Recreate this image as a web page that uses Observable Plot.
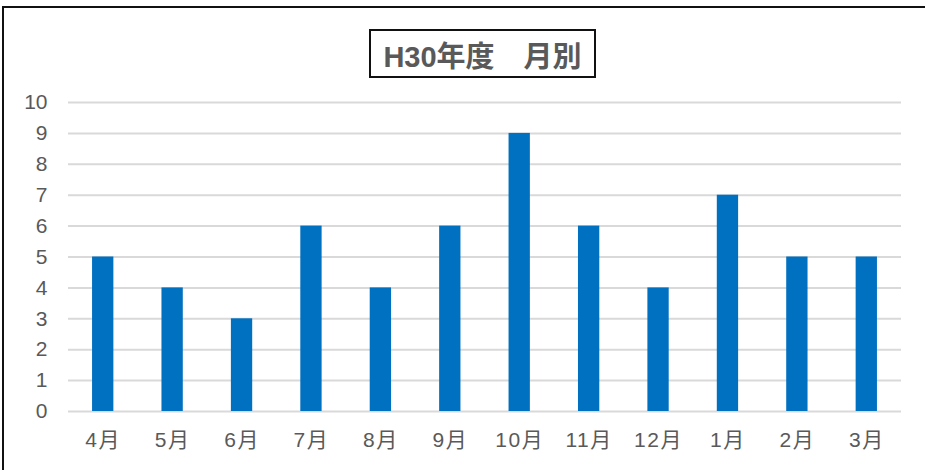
<!DOCTYPE html>
<html>
<head>
<meta charset="utf-8">
<script src="https://cdn.jsdelivr.net/npm/d3@7"></script>
<script src="https://cdn.jsdelivr.net/npm/@observablehq/plot@0.6"></script>
<style>
  html, body { margin: 0; padding: 0; background: #fff; overflow: hidden; width: 925px; height: 470px; }
  #frame { position: absolute; left: 2px; top: 6px; width: 1000px; height: 600px; border: 2px solid #111; box-sizing: border-box; }
  #title { position: absolute; left: 369px; top: 29px; width: 227px; height: 49px; box-sizing: border-box;
    border: 2px solid #111; display: flex; align-items: center; justify-content: center;
    font-family: "Liberation Sans", "Noto Sans CJK JP", sans-serif; font-weight: bold; font-size: 29px;
    color: #595959; letter-spacing: 0px; white-space: pre; }
  #chart { position: absolute; left: 0; top: 85px; }
</style>
</head>
<body>
<div id="frame"></div>
<div id="title"></div>
<div id="chart"></div>
<script>
const titleText = "H30年度\u3000月別";
const months = ["4月", "5月", "6月", "7月", "8月", "9月", "10月", "11月", "12月", "1月", "2月", "3月"];
const counts = [5, 4, 3, 6, 4, 6, 9, 6, 4, 7, 5, 5];
const yTicks = [0, 1, 2, 3, 4, 5, 6, 7, 8, 9, 10];

document.getElementById("title").textContent = titleText;

const data = months.map((m, i) => ({month: m, count: counts[i]}));

const chart = Plot.plot({
  width: 925,
  height: 385,
  marginTop: 17,
  marginBottom: 59,
  marginLeft: 68,
  marginRight: 24,
  style: {fontFamily: "'Liberation Sans', 'Noto Sans CJK JP', sans-serif", color: "#595959", background: "transparent"},
  x: {domain: months, paddingInner: 0.693, paddingOuter: 0.3465, round: false, label: null},
  y: {domain: [0, 10], label: null},
  marks: [
    Plot.ruleY(yTicks, {stroke: "#d9d9d9", strokeWidth: 2}),
    Plot.barY(data, {x: "month", y: "count", fill: "#0070C0"}),
    Plot.axisY({ticks: yTicks, tickSize: 0, tickPadding: 21, fontSize: 21, label: null, fill: "#595959"}),
    Plot.axisX({tickSize: 0, tickPadding: 21, fontSize: 21, label: null, fill: "#595959"})
  ]
});
chart.querySelectorAll("[aria-label='x-axis tick label'] text").forEach(t => t.setAttribute("letter-spacing", "1.5"));
document.getElementById("chart").appendChild(chart);
</script>
</body>
</html>
